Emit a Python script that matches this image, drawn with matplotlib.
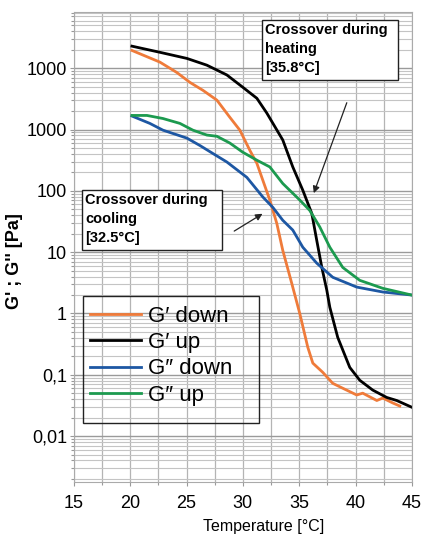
import numpy as np
import matplotlib
matplotlib.use("Agg")
import matplotlib.pyplot as plt
from matplotlib.patches import Rectangle
from matplotlib.ticker import FixedLocator, LogLocator, NullFormatter

# values (temperature in degC, log10 of modulus in Pa)
gp_up_t = [20.15, 22.63, 25.03, 26.80, 28.58, 29.99, 31.24, 32.12, 33.54, 34.43, 35.32,
           36.12, 36.56, 37.01, 37.45, 37.72, 38.42, 39.49, 40.38, 41.53, 42.77, 43.66, 45.0]
gp_up_log = [4.36, 4.26, 4.16, 4.05, 3.89, 3.69, 3.51, 3.27, 2.83, 2.39, 2.01,
             1.63, 1.19, 0.75, 0.38, 0.10, -0.39, -0.88, -1.09, -1.25, -1.37, -1.42, -1.53]

gp_down_t = [20.15, 22.63, 24.14, 25.29, 26.45, 27.69, 28.84, 29.73, 30.62, 31.24, 31.68,
             32.39, 33.01, 33.54, 34.34, 35.05, 35.76, 36.21, 37.09, 37.98, 38.87, 40.11,
             40.64, 41.89, 42.42, 43.31, 43.93]
gp_down_log = [4.29, 4.10, 3.93, 3.77, 3.64, 3.48, 3.20, 2.99, 2.66, 2.45, 2.22,
               1.85, 1.47, 1.03, 0.49, 0.00, -0.55, -0.81, -0.96, -1.14, -1.22, -1.33,
               -1.30, -1.42, -1.38, -1.46, -1.51]

gpp_up_t = [20.15, 21.48, 22.90, 24.41, 25.56, 26.80, 27.69, 28.84, 29.99, 31.24, 32.39,
            33.54, 35.05, 35.94, 36.83, 37.72, 38.87, 40.38, 42.42, 45.0]
gpp_up_log = [3.23, 3.23, 3.18, 3.10, 2.99, 2.91, 2.89, 2.78, 2.63, 2.50, 2.39,
              2.12, 1.85, 1.68, 1.41, 1.08, 0.75, 0.54, 0.41, 0.30]

gpp_down_t = [20.15, 21.74, 22.90, 25.03, 26.18, 27.33, 28.58, 30.35, 31.77, 32.66, 33.54,
              34.43, 35.32, 36.56, 37.98, 40.11, 42.42, 45.0]
gpp_down_log = [3.22, 3.10, 2.99, 2.86, 2.74, 2.61, 2.47, 2.22, 1.90, 1.73, 1.52,
                1.36, 1.08, 0.82, 0.59, 0.43, 0.35, 0.30]

ytick_vals = [0.01, 0.1, 1, 10, 100, 1000, 10000]
ytick_labels = ["0,01", "0,1", "1", "10", "100", "1000", "1000"]
xtick_vals = [15, 20, 25, 30, 35, 40, 45]

plt.rcParams["font.family"] = ["Liberation Sans", "DejaVu Sans"]

fig = plt.figure(figsize=(4.25, 5.38), dpi=100)
ax = fig.add_axes([0.174, 0.104, 0.795, 0.874])
ax.set_yscale("log")
ax.set_xlim(15, 45)
ax.set_ylim(10**-2.75, 10**4.92)

ax.yaxis.set_major_locator(FixedLocator(ytick_vals))
ax.set_yticklabels(ytick_labels, fontsize=13)
ax.yaxis.set_minor_locator(LogLocator(base=10, subs=np.arange(2, 10), numticks=20))
ax.yaxis.set_minor_formatter(NullFormatter())
ax.set_xticks(xtick_vals)
ax.set_xticklabels([str(v) for v in xtick_vals], fontsize=13)
ax.set_xticks(np.arange(17.5, 45, 5), minor=True)

ax.grid(True, which="major", axis="y", color="#9a9a9a", lw=1.0)
ax.grid(True, which="minor", axis="y", color="#c4c4c4", lw=0.8)
ax.grid(True, which="both", axis="x", color="#b4b4b4", lw=0.9)
ax.tick_params(which="both", color="#999999", length=3, width=0.8)
ax.tick_params(which="minor", length=2)
ax.tick_params(axis="y", pad=2)
ax.tick_params(axis="x", pad=6)
for s in ax.spines.values():
    s.set_color("#aaaaaa")

ax.plot(gp_down_t, np.power(10.0, gp_down_log), color="#ef7b3a", lw=2, label="G\u2032 down")
ax.plot(gp_up_t, np.power(10.0, gp_up_log), color="black", lw=2, label="G\u2032 up")
ax.plot(gpp_down_t, np.power(10.0, gpp_down_log), color="#1d57a3", lw=2, label="G\u2033 down")
ax.plot(gpp_up_t, np.power(10.0, gpp_up_log), color="#1c9a4f", lw=2, label="G\u2033 up")

ax.set_xlabel("Temperature [°C]", fontsize=11.5)
ax.xaxis.set_label_coords(0.562, -0.078)
ax.set_ylabel("G' ; G'' [Pa]", fontsize=13, fontweight="bold")
ax.yaxis.set_label_coords(-0.152, 0.47)

# annotation boxes
bold = dict(fontsize=10.5, fontweight="bold", va="top", ha="left", linespacing=1.45)
ax.add_patch(Rectangle((31.68, 10**3.80), 43.75 - 31.68, 10**4.78 - 10**3.80,
                       facecolor="white", edgecolor="#222222", lw=1, zorder=3))
ax.text(31.95, 10**4.74, "Crossover during\nheating\n[35.8°C]", zorder=4, **bold)
ax.add_patch(Rectangle((15.71, 10**1.03), 28.13 - 15.71, 10**2.01 - 10**1.03,
                       facecolor="white", edgecolor="#222222", lw=1, zorder=3))
ax.text(15.98, 10**1.97, "Crossover during\ncooling\n[32.5°C]", zorder=4, **bold)

ax.annotate("", xy=(36.21, 10**1.92), xytext=(39.31, 10**3.48),
            arrowprops=dict(arrowstyle="-|>", color="#222222", lw=0.9, mutation_scale=10))
ax.annotate("", xy=(31.95, 10**1.65), xytext=(29.02, 10**1.32),
            arrowprops=dict(arrowstyle="-|>", color="#222222", lw=0.9, mutation_scale=10))

# legend with a drawn frame
ax.add_patch(Rectangle((0.027, 0.125), 0.52, 0.27, transform=ax.transAxes,
                       facecolor="none", edgecolor="#222222", lw=1, zorder=3))
ax.legend(loc="upper left", bbox_to_anchor=(0.0, 0.408), frameon=False, fontsize=16,
          handlelength=2.3, handletextpad=0.35, labelspacing=0.24, borderaxespad=0.3)

fig.savefig("out.png", dpi=100)
